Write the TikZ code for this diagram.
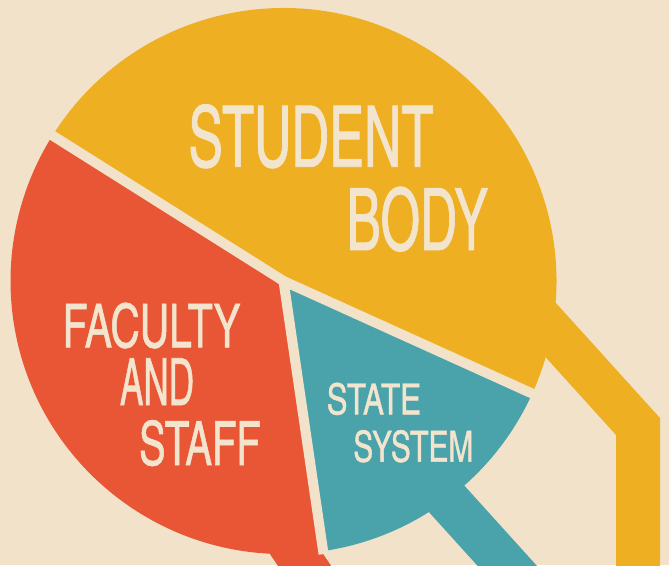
\documentclass[tikz,border=0pt]{standalone}
\usepackage{fontspec}
\IfFontExistsTF{texgyreheroscn-regular.otf}
  {\setmainfont{texgyreheroscn-regular.otf}[FakeBold=1]}
  {\setmainfont{Liberation Sans}[FakeBold=1]}
\usepackage{graphicx}
\usetikzlibrary{calc}
\definecolor{bgc}{RGB}{241,226,201}
\definecolor{yel}{RGB}{238,175,34}
\definecolor{redc}{RGB}{233,86,54}
\definecolor{tealc}{RGB}{74,162,171}
\definecolor{txtc}{RGB}{243,229,205}
\newcommand{\fitt}[3]{\resizebox{#1}{#2}{#3}}
\begin{document}
\begin{tikzpicture}[x=1pt,y=-1pt,line join=miter,
  stemline/.style={line width=44pt,line cap=butt},
  gapline/.style={bgc,line width=10pt,line cap=butt},
  lbl/.style={inner sep=0pt,outer sep=0pt,anchor=base west,text=txtc,font=\fontsize{40}{40}\selectfont}]
\useasboundingbox (0,0) rectangle (669,565);
\clip (0,0) rectangle (669,565);
\fill[bgc] (0,0) rectangle (669,565);
% centre and sector boundaries
\coordinate (C) at (283.5,281);
\path (C) ++(212.2:276) coordinate (Eyr);
\path (C) ++(24.35:276) coordinate (Eyt);
\path (C) ++(81.65:276) coordinate (Ert);
% stems
\draw[stemline,yel] (471.6,242.7) coordinate (ys0) -- (638,426.5) coordinate (ys1) -- (638,600) coordinate (ys2);
\draw[stemline,tealc] (408.6,456.8) coordinate (ts0) -- (549,612) coordinate (ts1);
\draw[stemline,redc] (264,506) coordinate (rs0) -- (325,596) coordinate (rs1);
% sectors
\fill[yel] (C) -- ++(212.2:273) arc[start angle=212.2,end angle=384.35,radius=273] -- cycle;
\fill[tealc] (C) -- ++(24.35:273) arc[start angle=24.35,end angle=81.65,radius=273] -- cycle;
\fill[redc] (C) -- ++(81.65:273) arc[start angle=81.65,end angle=212.2,radius=273] -- cycle;
% gaps
\draw[gapline] (C) -- (Eyr);
\draw[gapline] (C) -- (Eyt);
\draw[gapline] (C) -- (Ert);
% labels
\node[lbl] (student) at (188.3,166.7) {\fitt{245pt}{62.4pt}{STUDENT}};
\node[lbl] (body) at (346.7,250) {\fitt{141.6pt}{63.3pt}{BODY}};
\node[lbl] (faculty) at (62.7,347.3) {\fitt{178pt}{44.6pt}{FACULTY}};
\node[lbl] (and) at (120,405) {\fitt{74pt}{46.7pt}{AND}};
\node[lbl] (staff) at (139,465) {\fitt{121.7pt}{45pt}{STAFF}};
\node[lbl] (state) at (326.7,414.3) {\fitt{94.3pt}{31.6pt}{STATE}};
\node[lbl] (system) at (353.3,461.7) {\fitt{120pt}{31.7pt}{SYSTEM}};
\end{tikzpicture}
\end{document}
